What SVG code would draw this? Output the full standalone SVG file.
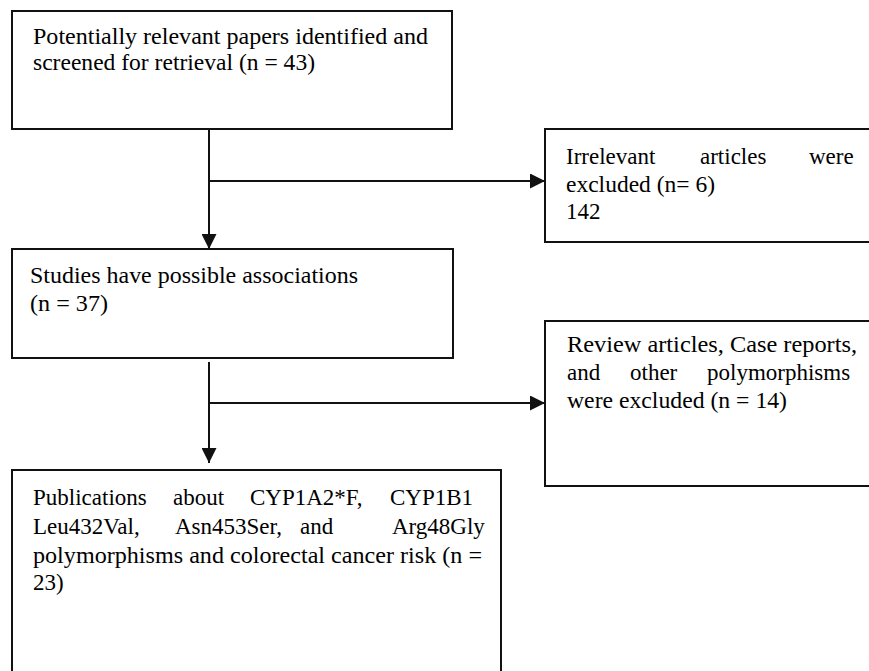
<svg xmlns="http://www.w3.org/2000/svg" width="869" height="671" viewBox="0 0 869 671">
<style>
.box{fill:#fff;stroke:#111;stroke-width:2}
.t{font-family:"Liberation Serif","Times New Roman",serif;font-size:23px;fill:#000}
.c{stroke:#111;stroke-width:2;fill:none}
</style>
<defs>
<marker id="ah" viewBox="0 0 10 10" refX="10" refY="5" markerUnits="userSpaceOnUse" markerWidth="15" markerHeight="15" orient="auto">
<path d="M0,0 L10,5 L0,10 z" fill="#111"/>
</marker>
</defs>
<rect width="869" height="671" fill="#fff"/>
<g id="connectors">
<line class="c" x1="209" y1="129" x2="209" y2="249" marker-end="url(#ah)"/>
<line class="c" x1="209" y1="181" x2="545" y2="181" marker-end="url(#ah)"/>
<line class="c" x1="209" y1="362" x2="209" y2="463" marker-end="url(#ah)"/>
<line class="c" x1="209" y1="403" x2="545" y2="403" marker-end="url(#ah)"/>
</g>
<g id="n1">
<rect class="box" x="12" y="11" width="440" height="118"/>
<text class="t" x="33" y="44" textLength="395" lengthAdjust="spacingAndGlyphs">Potentially relevant papers identified and</text>
<text class="t" x="33" y="70" textLength="282" lengthAdjust="spacingAndGlyphs">screened for retrieval (n = 43)</text>
</g>
<g id="n2">
<rect class="box" x="545" y="129" width="340" height="113"/>
<text class="t" y="164"><tspan x="566">Irrelevant</tspan><tspan x="700">articles</tspan><tspan x="809">were</tspan></text>
<text class="t" x="566" y="192" textLength="149" lengthAdjust="spacingAndGlyphs">excluded (n= 6)</text>
<text class="t" x="566" y="219">142</text>
</g>
<g id="n3">
<rect class="box" x="12" y="249" width="441" height="109"/>
<text class="t" x="30" y="283" textLength="328" lengthAdjust="spacingAndGlyphs">Studies have possible associations</text>
<text class="t" x="30" y="311" textLength="78" lengthAdjust="spacingAndGlyphs">(n = 37)</text>
</g>
<g id="n4">
<rect class="box" x="545" y="321" width="340" height="165"/>
<text class="t" x="567" y="352" textLength="290" lengthAdjust="spacingAndGlyphs">Review articles, Case reports,</text>
<text class="t" y="380"><tspan x="567">and</tspan><tspan x="630">other</tspan><tspan x="707">polymorphisms</tspan></text>
<text class="t" x="567" y="408" textLength="220" lengthAdjust="spacingAndGlyphs">were excluded (n = 14)</text>
</g>
<g id="n5">
<rect class="box" x="12" y="470" width="489" height="215"/>
<text class="t" y="505"><tspan x="33">Publications</tspan><tspan x="173">about</tspan><tspan x="250">CYP1A2*F,</tspan><tspan x="390">CYP1B1</tspan></text>
<text class="t" y="534"><tspan x="33">Leu432Val,</tspan><tspan x="175">Asn453Ser,</tspan><tspan x="300">and</tspan><tspan x="392">Arg48Gly</tspan></text>
<text class="t" x="33" y="563" textLength="449" lengthAdjust="spacingAndGlyphs">polymorphisms and colorectal cancer risk (n =</text>
<text class="t" x="33" y="590">23)</text>
</g>
</svg>
